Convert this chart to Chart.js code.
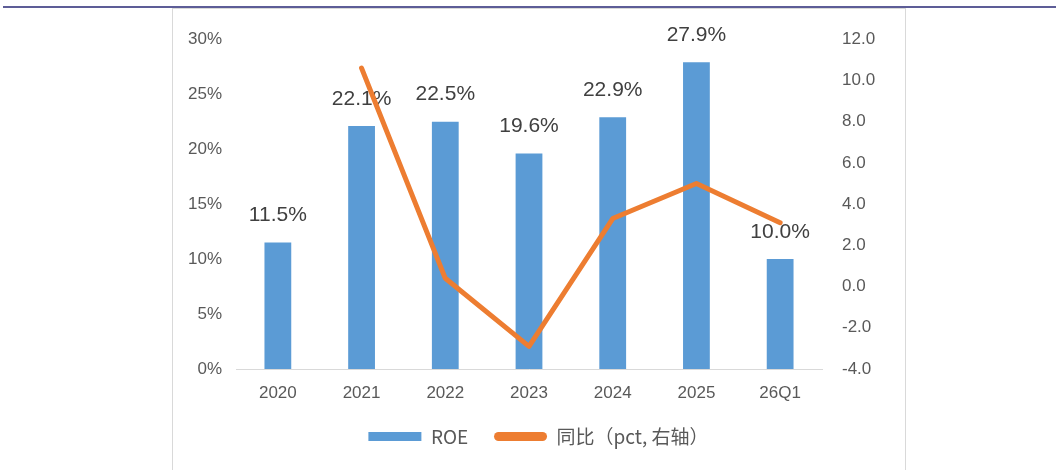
<!DOCTYPE html>
<html>
<head>
<meta charset="utf-8">
<script src="https://cdn.jsdelivr.net/npm/chart.js@4/dist/chart.umd.min.js"></script>
<style>
  body { margin: 0; background: #fff; width: 1056px; height: 470px; overflow: hidden; position: relative; }
  #topline { position: absolute; left: 3px; right: 0; top: 6px; height: 2px; background: #5d5d97; }
  #frame { position: absolute; left: 172px; top: 8px; width: 732px; height: 470px; border: 1px solid #d9d9d9; border-bottom: none; }
  #chart { position: absolute; left: 172px; top: 9px; }
</style>
</head>
<body>
<div id="topline"></div>
<div id="frame"></div>
<canvas id="chart" width="733" height="461"></canvas>
<script>
var labels = ["2020", "2021", "2022", "2023", "2024", "2025", "26Q1"];
var roe = [11.5, 22.1, 22.5, 19.6, 22.9, 27.9, 10.0];
var yoy = [null, 10.6, 0.4, -2.9, 3.3, 5.0, 3.1];

var tickFont = { family: "'Liberation Sans', Arial, sans-serif", size: 17 };

// value labels over the bars, drawn before the line so the line sits on top
var barLabels = {
  id: "barLabels",
  afterDatasetDraw: function (chart, args) {
    if (args.index !== 0) return;
    var ctx = chart.ctx;
    ctx.save();
    ctx.font = "21px 'Liberation Sans', sans-serif";
    ctx.fillStyle = "#404040";
    ctx.textAlign = "center";
    ctx.textBaseline = "middle";
    args.meta.data.forEach(function (bar, i) {
      ctx.fillText(roe[i].toFixed(1) + "%", bar.x, bar.y - 27);
    });
    ctx.restore();
  }
};

var config = {
  type: "bar",
  data: {
    labels: labels,
    datasets: [{
      label: "ROE   ",
      data: roe,
      backgroundColor: "#5b9bd5",
      categoryPercentage: 1,
      barPercentage: 0.32,
      yAxisID: "y",
      order: 1
    }, {
      type: "line",
      label: "同比（pct, 右轴）",
      data: yoy,
      borderColor: "#ed7d31",
      backgroundColor: "#ed7d31",
      borderWidth: 5,
      borderCapStyle: "round",
      borderJoinStyle: "round",
      pointRadius: 0,
      tension: 0,
      yAxisID: "y1",
      order: 0
    }]
  },
  options: {
    responsive: false,
    animation: false,
    layout: { padding: { top: 29, left: 0, right: 0, bottom: 14 } },
    plugins: {
      tooltip: { enabled: false },
      legend: {
        position: "bottom",
        labels: {
          boxWidth: 53,
          boxHeight: 9,
          padding: 13,
          color: "#595959",
          useBorderRadius: true,
          font: { family: "'Noto Sans CJK SC', sans-serif", size: 19 },
          generateLabels: function (chart) {
            return chart.data.datasets.map(function (ds, i) {
              return {
                text: ds.label,
                fillStyle: ds.backgroundColor,
                strokeStyle: ds.backgroundColor,
                lineWidth: 0,
                borderRadius: i === 1 ? 4.5 : 0,
                fontColor: "#595959",
                datasetIndex: i
              };
            });
          }
        }
      }
    },
    scales: {
      x: {
        grid: { display: false, drawTicks: false },
        border: { display: true, color: "#d9d9d9", width: 1 },
        ticks: { color: "#595959", font: tickFont, padding: 14 },
        afterFit: function (scale) { scale.height = 45; }
      },
      y: {
        position: "left",
        min: 0,
        max: 30,
        grid: { display: false, drawTicks: false },
        border: { display: false },
        ticks: {
          stepSize: 5,
          color: "#595959",
          font: tickFont,
          padding: 14,
          callback: function (v) { return v + "%"; }
        },
        afterFit: function (scale) { scale.width = 64; }
      },
      y1: {
        position: "right",
        min: -4,
        max: 12,
        grid: { display: false, drawTicks: false },
        border: { display: false },
        ticks: {
          stepSize: 2,
          color: "#595959",
          font: tickFont,
          padding: 20,
          callback: function (v) { return v.toFixed(1); }
        },
        afterFit: function (scale) { scale.width = 83; }
      }
    }
  },
  plugins: [barLabels]
};

var roeChart = new Chart("chart", config);
</script>
</body>
</html>
